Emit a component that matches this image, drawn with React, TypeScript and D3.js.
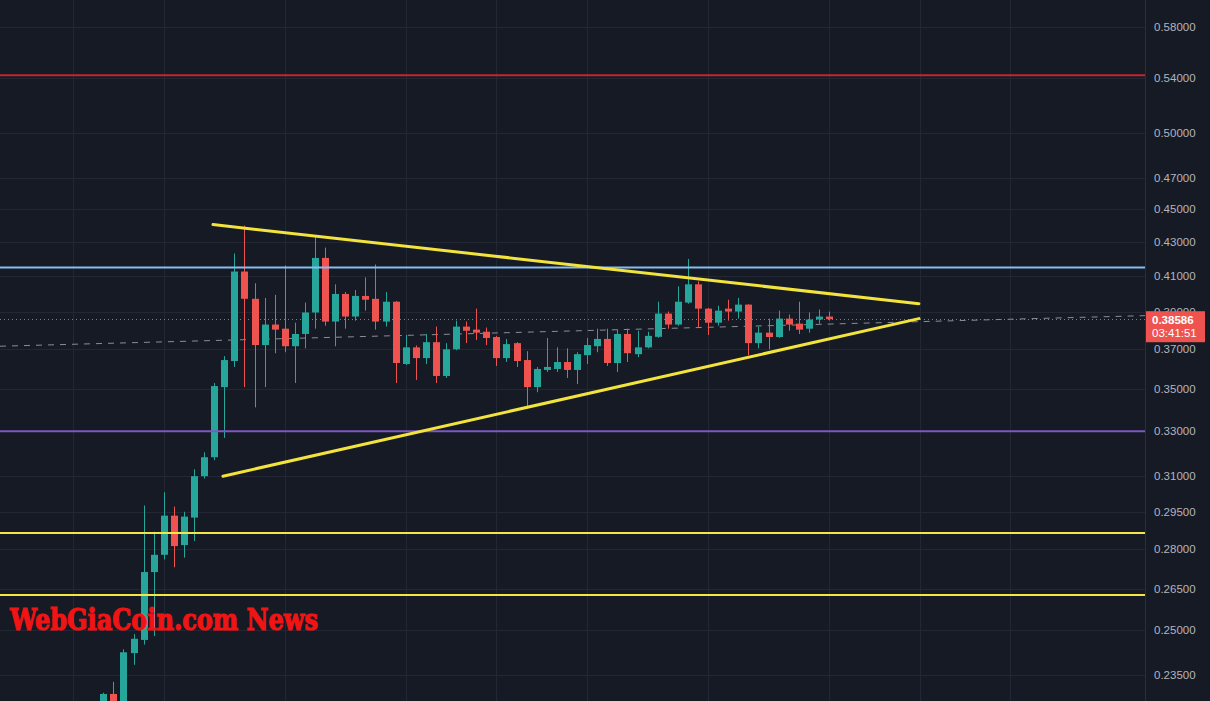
import React from "react";
import * as d3 from "d3";

const W = 1210;
const H = 701;
const PLOT_W = 1145;

// OHLC per candle (index 0..72)
const opens = [0.2255,0.2288,0.2265,0.2422,0.2467,0.2712,0.2778,0.2934,0.2816,0.2926,0.31,0.3183,0.351,0.364,0.4124,0.397,0.3722,0.383,0.3808,0.3716,0.378,0.3895,0.4203,0.3846,0.3997,0.3873,0.3986,0.397,0.3846,0.3954,0.3625,0.371,0.3655,0.3737,0.3565,0.37,0.3819,0.3803,0.3792,0.3764,0.3655,0.3732,0.3645,0.351,0.3595,0.36,0.3635,0.3595,0.367,0.3716,0.3754,0.363,0.378,0.3675,0.371,0.3765,0.3889,0.383,0.3949,0.4051,0.3916,0.384,0.3916,0.39,0.3938,0.3732,0.3787,0.3764,0.3862,0.3835,0.3808,0.3857,0.3873];
const highs = [0.2292,0.2327,0.2435,0.2487,0.2976,0.2869,0.3031,0.2971,0.295,0.313,0.3205,0.353,0.3665,0.4229,0.4397,0.4057,0.3975,0.3992,0.4159,0.384,0.3949,0.4336,0.4264,0.4051,0.4008,0.4019,0.409,0.4165,0.4008,0.3958,0.3775,0.372,0.378,0.3819,0.3732,0.3851,0.3846,0.3916,0.3814,0.377,0.3754,0.3737,0.369,0.361,0.3759,0.371,0.3705,0.3685,0.3759,0.3808,0.3808,0.3803,0.3808,0.3797,0.3792,0.3954,0.39,0.404,0.4197,0.4068,0.392,0.3932,0.3965,0.3975,0.394,0.3819,0.3862,0.3905,0.3884,0.3954,0.3895,0.3911,0.39];
const lows = [0.224,0.224,0.225,0.2383,0.2451,0.248,0.276,0.273,0.2767,0.2832,0.309,0.317,0.327,0.361,0.351,0.3412,0.351,0.368,0.3685,0.353,0.3705,0.3808,0.3824,0.3716,0.3808,0.3851,0.3905,0.3803,0.3819,0.353,0.362,0.3545,0.3625,0.353,0.3555,0.3695,0.3732,0.3748,0.3722,0.3615,0.3635,0.361,0.3407,0.3485,0.3585,0.3585,0.3555,0.3525,0.3625,0.3685,0.3615,0.3585,0.3635,0.366,0.3705,0.376,0.3808,0.3824,0.3943,0.3814,0.3775,0.3824,0.3851,0.3862,0.367,0.3705,0.37,0.376,0.3797,0.378,0.3787,0.3835,0.3851];
const closes = [0.2288,0.2262,0.2425,0.2471,0.2712,0.2778,0.2934,0.2812,0.293,0.31,0.3183,0.3515,0.3645,0.4124,0.397,0.3722,0.383,0.3803,0.3716,0.378,0.3895,0.4203,0.3846,0.3997,0.3873,0.3986,0.3965,0.3846,0.3954,0.363,0.371,0.3655,0.3737,0.3565,0.37,0.3819,0.3797,0.3787,0.3759,0.3655,0.3727,0.364,0.351,0.36,0.361,0.3635,0.3595,0.3675,0.3722,0.3754,0.363,0.378,0.368,0.371,0.377,0.3889,0.383,0.3954,0.4051,0.3916,0.384,0.3905,0.39,0.3938,0.3732,0.3787,0.3764,0.3862,0.383,0.3803,0.3857,0.3873,0.38586];

const priceTicks = [0.58, 0.54, 0.5, 0.47, 0.45, 0.43, 0.41, 0.39, 0.37, 0.35, 0.33, 0.31, 0.295, 0.28, 0.265, 0.25, 0.235];
const timeGrid = [-3, 6, 18, 30, 39, 48, 60, 72, 81, 90];

const lastPrice = 0.38586;
const countdown = "03:41:51";

// horizontal levels [price, color]
const levelPrices = [0.5423, 0.4147, 0.33, 0.2864, 0.2627];
const levelColors = ["#c2262e", "#86bdf0", "#7e57c2", "#f3e64a", "#f3e64a"];

// trend lines: [index, price] endpoints
const upperTrend = [[10.88, 0.4403], [80.92, 0.3943]];
const lowerTrend = [[11.87, 0.31], [80.92, 0.3862]];
const dashedTrend = [[-10.25, 0.3716], [103.35, 0.3878]];

const watermark = "WebGiaCoin.com News";

export default function App() {
  const x = d3.scaleLinear().domain([-10.25, 103.35]).range([0, PLOT_W]);
  const y = d3.scaleLog().domain([0.22656, 0.60226]).range([H, 0]);
  const up = "#26a69a";
  const down = "#ef5350";
  const bw = 7;
  const line = d3
    .line<number[]>()
    .x((d) => x(d[0]))
    .y((d) => y(d[1]));

  return (
    <svg
      width={W}
      height={H}
      style={{ position: "absolute", left: 0, top: 0, display: "block" }}
    >
      <rect x={0} y={0} width={W} height={H} fill="#161a25" />
      <defs>
        <clipPath id="plot">
          <rect x={0} y={0} width={PLOT_W} height={H} />
        </clipPath>
      </defs>
      <g clipPath="url(#plot)">
        {priceTicks.map((p) => (
          <line
            key={"h" + p}
            x1={0}
            x2={PLOT_W}
            y1={Math.round(y(p)) + 0.5}
            y2={Math.round(y(p)) + 0.5}
            stroke="#232733"
            strokeWidth={1}
          />
        ))}
        {timeGrid.map((t) => (
          <line
            key={"v" + t}
            x1={Math.round(x(t)) + 0.5}
            x2={Math.round(x(t)) + 0.5}
            y1={0}
            y2={H}
            stroke="#232733"
            strokeWidth={1}
          />
        ))}
        <path
          d={line(dashedTrend as number[][]) || ""}
          stroke="#8a8d96"
          strokeWidth={1}
          strokeDasharray="6,6"
          fill="none"
        />
        <line
          x1={0}
          x2={PLOT_W}
          y1={Math.round(y(lastPrice)) + 0.5}
          y2={Math.round(y(lastPrice)) + 0.5}
          stroke={down}
          strokeWidth={1}
          strokeDasharray="1,3"
        />
        {opens.map((o, i) => {
          const c = closes[i];
          const col = c >= o ? up : down;
          const cx = Math.round(x(i));
          const top = y(Math.max(o, c));
          const bot = y(Math.min(o, c));
          return (
            <g key={"c" + i}>
              <line
                x1={cx + 0.5}
                x2={cx + 0.5}
                y1={y(highs[i])}
                y2={y(lows[i])}
                stroke={col}
                strokeWidth={1}
              />
              <rect
                x={cx - (bw - 1) / 2}
                y={top}
                width={bw}
                height={Math.max(1, bot - top)}
                fill={col}
              />
            </g>
          );
        })}
        {levelPrices.map((p, i) => (
          <line
            key={"l" + p}
            x1={0}
            x2={PLOT_W}
            y1={y(p)}
            y2={y(p)}
            stroke={levelColors[i]}
            strokeWidth={2}
          />
        ))}
        <path
          d={line(upperTrend as number[][]) || ""}
          stroke="#f2e33d"
          strokeWidth={3}
          strokeLinecap="round"
          fill="none"
        />
        <path
          d={line(lowerTrend as number[][]) || ""}
          stroke="#f2e33d"
          strokeWidth={3}
          strokeLinecap="round"
          fill="none"
        />
        <text
          x={10}
          y={630}
          fill="#f01414"
          stroke="#f01414"
          strokeWidth={1.2}
          fontFamily="'DejaVu Serif', serif"
          fontWeight="bold"
          fontSize={29}
          textLength={308}
          lengthAdjust="spacingAndGlyphs"
        >
          {watermark}
        </text>
      </g>
      <line x1={PLOT_W + 0.5} x2={PLOT_W + 0.5} y1={0} y2={H} stroke="#2a2e39" strokeWidth={1} />
      {priceTicks.map((p) => (
        <text
          key={"t" + p}
          x={1154}
          y={y(p)}
          dy="0.35em"
          fill="#b2b5be"
          fontFamily="'Liberation Sans', Arial, sans-serif"
          fontSize={11.5}
        >
          {p.toFixed(5)}
        </text>
      ))}
      <rect x={1146} y={y(lastPrice) - 8} width={59} height={31} fill={down} />
      <text
        x={1152}
        y={y(lastPrice) + 1}
        dy="0.35em"
        fill="#ffffff"
        fontFamily="'Liberation Sans', Arial, sans-serif"
        fontWeight="bold"
        fontSize={11.5}
      >
        {lastPrice.toFixed(5)}
      </text>
      <text
        x={1152}
        y={y(lastPrice) + 14}
        dy="0.35em"
        fill="#ffffff"
        fontFamily="'Liberation Sans', Arial, sans-serif"
        fontSize={11.5}
      >
        {countdown}
      </text>
    </svg>
  );
}
